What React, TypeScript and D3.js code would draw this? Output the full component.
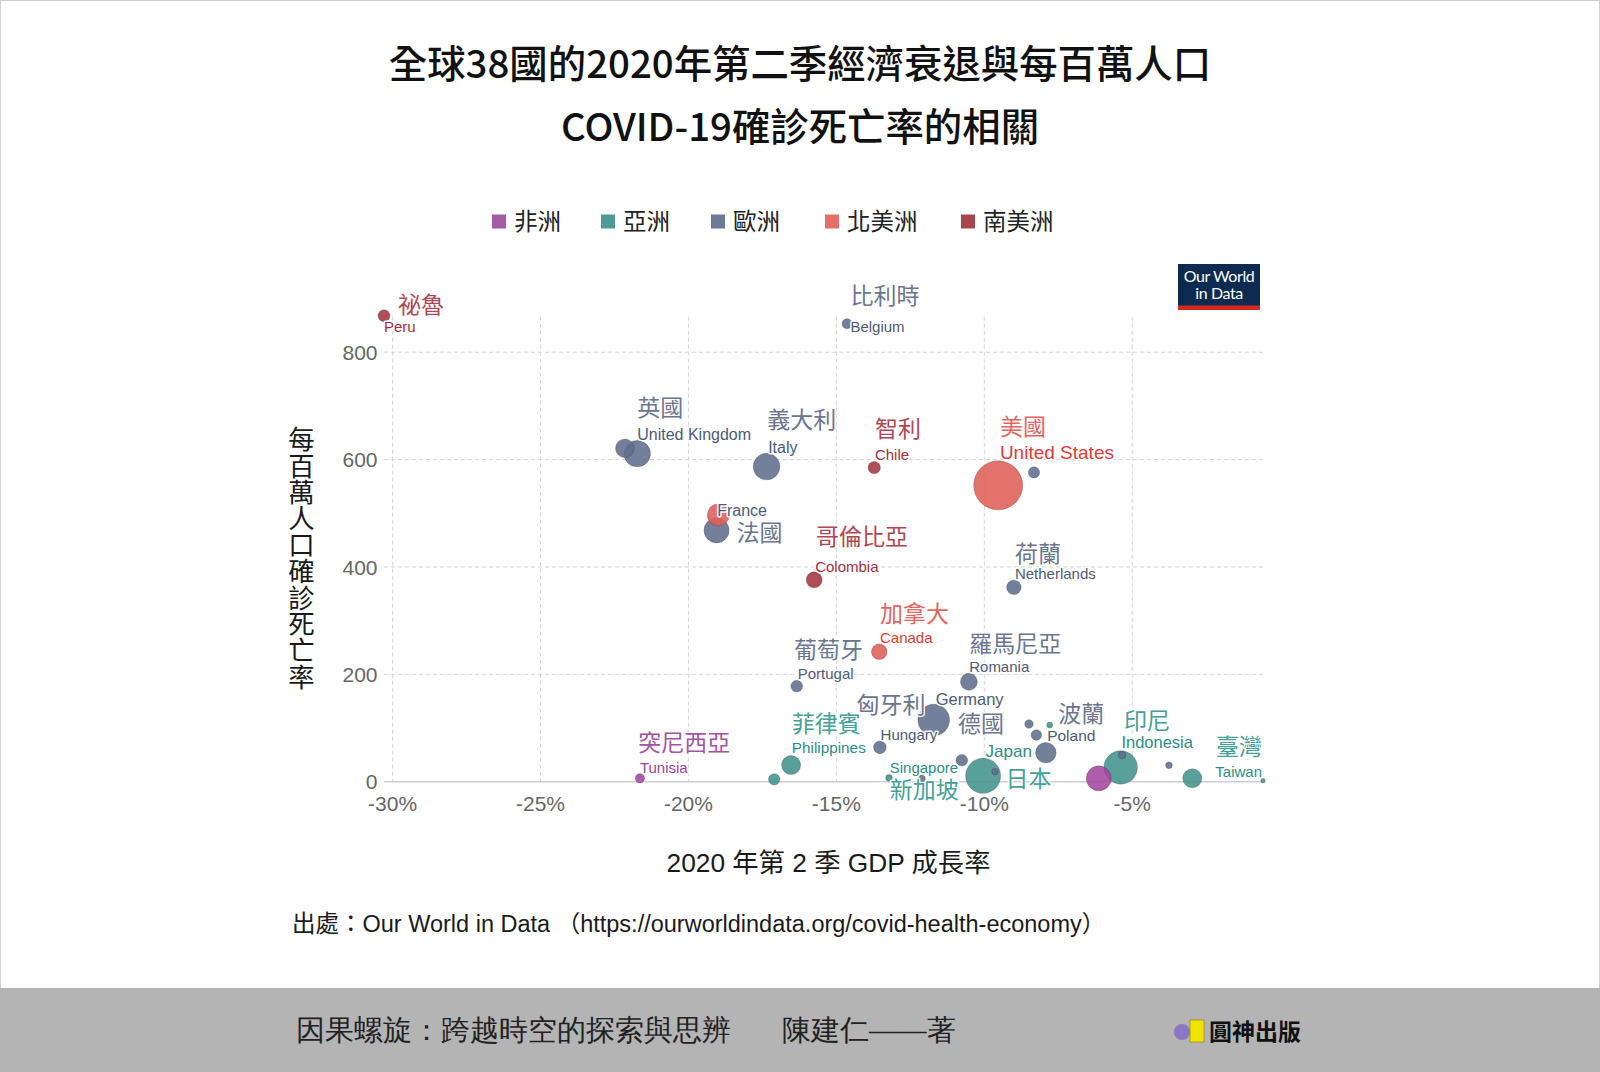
import React from 'react';
import * as d3 from 'd3';

// ---------------- data ----------------
const countries = [
  'Peru', 'Spain', 'United Kingdom', 'Italy', 'Belgium', 'Chile', 'United States', 'Sweden',
  'Mexico', 'France', 'Colombia', 'Netherlands', 'Canada', 'Portugal', 'Romania', 'Germany',
  'Hungary', 'Singapore', 'Slovakia', 'Czechia', 'Japan', 'Latvia', 'Denmark', 'Israel',
  'Bulgaria', 'Poland', 'Indonesia', 'Finland', 'Nigeria', 'Lithuania', 'South Korea', 'Taiwan',
  'Tunisia', 'Malaysia', 'Philippines',
];
const continents = [
  'SA', 'EU', 'EU', 'EU', 'EU', 'SA', 'NA', 'EU',
  'NA', 'EU', 'SA', 'EU', 'NA', 'EU', 'EU', 'EU',
  'EU', 'AS', 'EU', 'EU', 'AS', 'EU', 'EU', 'AS',
  'EU', 'EU', 'AS', 'EU', 'AF', 'EU', 'AS', 'AS',
  'AF', 'AS', 'AS',
];
// GDP growth, Q2 2020 (%)
const gdpGrowth = [
  -30.29, -22.15, -21.73, -17.36, -14.64, -13.72, -9.53, -8.32,
  -18.99, -19.05, -15.75, -9.0, -13.55, -16.34, -10.52, -11.71,
  -13.53, -13.22, -12.12, -10.76, -10.04, -9.64, -8.49, -7.79,
  -8.24, -7.92, -5.39, -5.34, -6.13, -3.76, -2.97, -0.58,
  -21.64, -17.1, -16.53,
];
// confirmed COVID-19 deaths per million
const deathsPerMillion = [
  868, 621, 611, 587, 853, 585, 552, 576,
  497, 468, 376, 362, 242, 178, 186, 115,
  64, 7, 5.6, 40, 11, 18.6, 107.5, 105.6,
  87, 54, 26.6, 49.7, 6.3, 30.5, 6.3, 1.9,
  6.3, 4.4, 31,
];
// relative bubble size
const bubbleSize = [
  36, 86, 174, 177, 25, 38, 600, 32,
  121, 156, 64, 52, 61, 34, 72, 250,
  40, 11, 14, 34, 306, 11, 18, 9,
  28, 106, 279, 14, 156, 11, 90, 5,
  22, 32, 90,
];
const labelsEn = [
  'Peru', '', 'United Kingdom', 'Italy', 'Belgium', 'Chile', 'United States', '',
  '', 'France', 'Colombia', 'Netherlands', 'Canada', 'Portugal', 'Romania', 'Germany',
  'Hungary', 'Singapore', '', '', 'Japan', '', '', '',
  '', 'Poland', 'Indonesia', '', '', '', '', 'Taiwan',
  'Tunisia', '', 'Philippines',
];
const labelsZh = [
  '祕魯', '', '英國', '義大利', '比利時', '智利', '美國', '',
  '', '法國', '哥倫比亞', '荷蘭', '加拿大', '葡萄牙', '羅馬尼亞', '德國',
  '匈牙利', '新加坡', '', '', '日本', '', '', '',
  '', '波蘭', '印尼', '', '', '', '', '臺灣',
  '突尼西亞', '', '菲律賓',
];
const legendKeys = ['AF', 'AS', 'EU', 'NA', 'SA'];
const legendLabels = ['非洲', '亞洲', '歐洲', '北美洲', '南美洲'];
const xTicks = [-30, -25, -20, -15, -10, -5];
const yTicks = [0, 200, 400, 600, 800];

const titleLines = ['全球38國的2020年第二季經濟衰退與每百萬人口', 'COVID-19確診死亡率的相關'];
const yTitle = '每百萬人口確診死亡率';
const xTitle = '2020 年第 2 季 GDP 成長率';
const sourceText = '出處：Our World in Data （https://ourworldindata.org/covid-health-economy）';

// ---------------- styles / layout ----------------
const bubbleColor: Record<string, string> = {
  AF: '#a4479f', AS: '#42928c', EU: '#5f6e8d', NA: '#df5f59', SA: '#a3353f',
};
const legendColor: Record<string, string> = {
  AF: '#a65aa5', AS: '#4d9b96', EU: '#6d7a97', NA: '#e36f68', SA: '#a8454f',
};
const zhColor: Record<string, string> = {
  AF: '#a652a3', AS: '#45a097', EU: '#6b7590', NA: '#e4665e', SA: '#b04651',
};
const enColor: Record<string, string> = {
  AF: '#a0439b', AS: '#2e8d86', EU: '#4e5a75', NA: '#df3b35', SA: '#a22e3a',
};
const legendX = [492, 601, 711, 825, 961];

type LL = { en?: [number, number]; zh?: [number, number]; anchor?: 'start' | 'end'; enSize?: number };
const labelLayout: Record<string, LL> = {
  Peru: { en: [0, 16.6], zh: [14, -3] },
  'United Kingdom': { en: [0, -14], zh: [0, -37.3], enSize: 16 },
  Italy: { en: [1.6, -14], zh: [0.6, -38.4], enSize: 16 },
  Belgium: { en: [3.4, 8.3], zh: [3.4, -20] },
  Chile: { en: [0.7, -7.7], zh: [0.7, -31] },
  'United States': { en: [1.7, -26.2], zh: [1.7, -50.5], enSize: 19 },
  France: { en: [0.6, -14.7], zh: [20, 11], enSize: 16 },
  Colombia: { en: [1, -8.3], zh: [1.7, -35] },
  Netherlands: { en: [1, -8], zh: [1, -25.6] },
  Canada: { en: [0.7, -8.4], zh: [0.7, -30] },
  Portugal: { en: [1, -6.7], zh: [-2.7, -27.7] },
  Romania: { en: [0.3, -9.4], zh: [0.3, -30] },
  Germany: { en: [2, -15], zh: [24.3, 11.7], enSize: 16.5 },
  Hungary: { en: [0.7, -7.3], zh: [-23.3, -34] },
  Singapore: { en: [0.7, -4.7], zh: [0.7, 20.5] },
  Japan: { en: [2.5, -19], zh: [22.5, 11], enSize: 17 },
  Poland: { en: [1.3, -12], zh: [12.3, -31], enSize: 15.5 },
  Indonesia: { en: [0.7, -19.7], zh: [3.3, -38], enSize: 16.5 },
  Taiwan: { en: [-1, -4], zh: [-1, -25.7], anchor: 'end' },
  Tunisia: { en: [0, -5.6], zh: [-1.7, -27.6] },
  Philippines: { en: [0.7, -11.7], zh: [0.7, -32.7], enSize: 15.3 },
};

const W = 1600;
const H = 1072;
const plot = { left: 384, right: 1263, top: 315.7, bottom: 781.7 };
const latin = '"Liberation Sans", Arial, "Noto Sans CJK TC", sans-serif';
const cjk = '"Noto Sans CJK TC", "Liberation Sans", sans-serif';
const ZH_SHIFT = 0;

export default function App() {
  const x = d3.scaleLinear().domain(d3.extent(gdpGrowth) as [number, number]).range([plot.left, plot.right]);
  const y = d3.scaleLinear().domain([0, d3.max(deathsPerMillion) as number]).range([plot.bottom, plot.top]);
  const r = d3.scaleSqrt().domain([0, d3.max(bubbleSize) as number]).range([0, 24.5]);
  const order = d3.range(countries.length).sort((a, b) => bubbleSize[b] - bubbleSize[a]);

  return (
    <svg width={W} height={H} style={{ position: 'absolute', left: 0, top: 0, background: '#fff' }}>
      <rect x={0.5} y={0.5} width={W - 1} height={H - 1} fill="#fff" stroke="#d0d0d0" />

      {/* title */}
      {titleLines.map((t, i) => (
        <text key={t} x={800} y={i === 0 ? 78 : 141} textAnchor="middle" fontFamily={cjk}
          fontSize={38.4} fontWeight={500} fill="#111">{t}</text>
      ))}

      {/* legend */}
      {legendKeys.map((k, i) => (
        <g key={k}>
          <rect x={legendX[i]} y={214.5} width={14} height={14} fill={legendColor[k]} />
          <text x={legendX[i] + 22} y={229.5} fontFamily={cjk} fontSize={23.5} fill="#222">{legendLabels[i]}</text>
        </g>
      ))}

      {/* OWID logo */}
      <g>
        <rect x={1178} y={264} width={82} height={46} fill="#0d2a50" />
        <rect x={1178} y={305.5} width={82} height={4.5} fill="#d42b21" />
        <text x={1219} y={282} textAnchor="middle" fontFamily="Lato, sans-serif" fontSize={16} fill="#fff" letterSpacing={-0.4}>Our World</text>
        <text x={1219} y={299} textAnchor="middle" fontFamily="Lato, sans-serif" fontSize={16} fill="#fff" letterSpacing={-0.4}>in Data</text>
      </g>

      {/* grid */}
      {yTicks.filter((t) => t > 0).map((t) => (
        <line key={'gy' + t} x1={plot.left} x2={plot.right} y1={y(t)} y2={y(t)} stroke="#d4d4d4" strokeDasharray="4,3" />
      ))}
      {xTicks.map((t) => (
        <line key={'gx' + t} x1={x(t)} x2={x(t)} y1={plot.top + 1} y2={plot.bottom} stroke="#d4d4d4" strokeDasharray="4,3" />
      ))}
      <line x1={plot.left} x2={plot.right} y1={y(0)} y2={y(0)} stroke="#cfcfcf" strokeWidth={1.5} />

      {/* tick labels */}
      {yTicks.map((t) => (
        <text key={'ty' + t} x={plot.left - 6.5} y={y(t)} dy="0.36em" textAnchor="end" fontFamily={latin} fontSize={21} fill="#666">{t}</text>
      ))}
      {xTicks.map((t) => (
        <text key={'tx' + t} x={x(t)} y={811} textAnchor="middle" fontFamily={latin} fontSize={21} fill="#666">{t + '%'}</text>
      ))}

      {/* axis titles */}
      <text x={828.5} y={871.5} textAnchor="middle" fontFamily={latin} fontSize={26.3} fill="#1a1a1a">{xTitle}</text>
      <text x={301.5} y={426} fontFamily={cjk} fontSize={26.4} fill="#1a1a1a"
        style={{ writingMode: 'vertical-rl' }}>{yTitle}</text>

      {/* bubbles */}
      {order.map((i) => (
        <circle key={countries[i]} cx={x(gdpGrowth[i])} cy={y(deathsPerMillion[i])} r={r(bubbleSize[i])}
          fill={bubbleColor[continents[i]]} fillOpacity={0.88} stroke="#333" strokeOpacity={0.35} strokeWidth={0.8} />
      ))}

      {/* labels */}
      {countries.map((c, i) => {
        const L = labelLayout[c];
        if (!L) return null;
        const px = x(gdpGrowth[i]);
        const py = y(deathsPerMillion[i]);
        const k = continents[i];
        return (
          <g key={'lab' + c}>
            {labelsZh[i] && L.zh && (
              <text x={px + L.zh[0]} y={py + L.zh[1] + ZH_SHIFT} textAnchor={L.anchor || 'start'} fontFamily={cjk}
                fontSize={23} fill={zhColor[k]} stroke="#fff" strokeWidth={2.5} strokeLinejoin="round"
                style={{ paintOrder: 'stroke' }}>{labelsZh[i]}</text>
            )}
            {labelsEn[i] && L.en && (
              <text x={px + L.en[0]} y={py + L.en[1]} textAnchor={L.anchor || 'start'} fontFamily={latin}
                fontSize={L.enSize || 15} fill={enColor[k]} stroke="#fff" strokeWidth={3} strokeLinejoin="round"
                style={{ paintOrder: 'stroke' }}>{labelsEn[i]}</text>
            )}
          </g>
        );
      })}

      {/* source */}
      <text x={292} y={932} fontFamily={latin} fontSize={23.5} fill="#1a1a1a">{sourceText}</text>

      {/* footer */}
      <rect x={0} y={988} width={W} height={H - 988} fill="#b4b4b4" />
      <text x={296} y={1040} fontFamily={'serif'} fontSize={28.8} fill="#222">因果螺旋：跨越時空的探索與思辨</text>
      <text x={782} y={1040} fontFamily={'serif'} fontSize={28.8} fill="#222">陳建仁——著</text>
      <circle cx={1182} cy={1032} r={8} fill="#8877c2" />
      <rect x={1190} y={1020} width={14} height={22} fill="#f2e200" stroke="#8a7f00" strokeWidth={0.6} />
      <text x={1209} y={1040} fontFamily={cjk} fontSize={23} fontWeight={700} fill="#111">圓神出版</text>
    </svg>
  );
}
